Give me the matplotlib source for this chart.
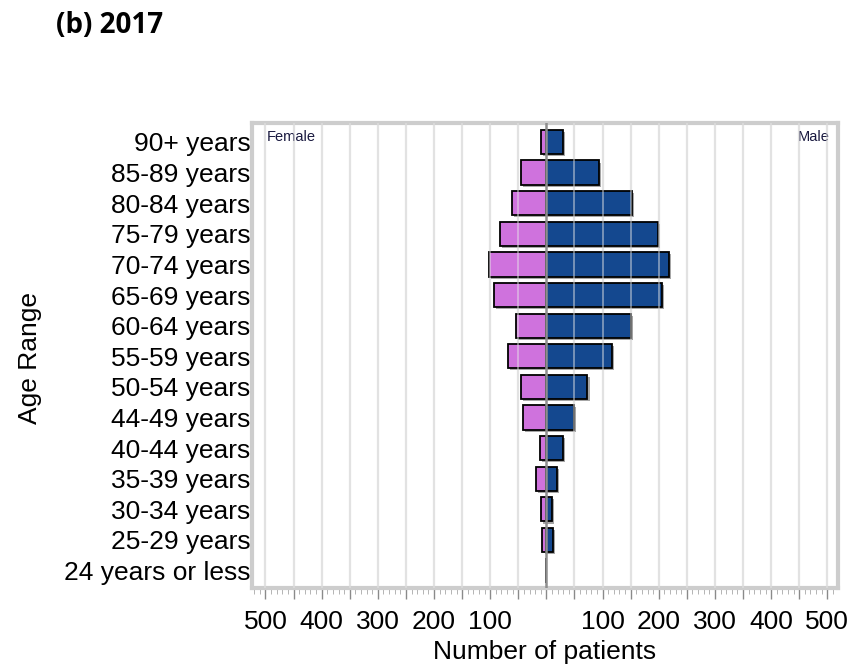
import matplotlib
matplotlib.use("Agg")
import matplotlib.pyplot as plt
import matplotlib.patheffects as pe
from matplotlib.ticker import MultipleLocator, FuncFormatter

# patients per age band, 2017 (top to bottom as listed)
age_groups = ["90+ years", "85-89 years", "80-84 years", "75-79 years",
              "70-74 years", "65-69 years", "60-64 years", "55-59 years",
              "50-54 years", "44-49 years", "40-44 years", "35-39 years",
              "30-34 years", "25-29 years", "24 years or less"]
female = [9, 46, 61, 82, 102, 94, 55, 69, 46, 42, 12, 19, 10, 7, 0]
male = [29, 93, 153, 198, 218, 205, 150, 117, 73, 49, 29, 19, 10, 11, 0]

female_color = "#CF72DD"
male_color = "#14488F"

plt.rcParams["font.family"] = ["Liberation Sans", "DejaVu Sans"]

W, H = 848, 670
fig = plt.figure(figsize=(W / 100, H / 100), dpi=100)
ax = fig.add_axes([252 / W, 1 - 588 / H, (838 - 252) / W, (588 - 123) / H])

n = len(age_groups)
ypos = [n - 1 - i for i in range(n)]

shadow = [pe.SimplePatchShadow(offset=(1.5, -1.5), shadow_rgbFace="#808080", alpha=0.7),
          pe.Normal()]
fb = ax.barh(ypos, [-v for v in female], height=0.79, color=female_color,
             edgecolor="black", linewidth=1.3, zorder=3)
mb = ax.barh(ypos, male, height=0.79, color=male_color,
             edgecolor="black", linewidth=1.3, zorder=3)
for p in list(fb) + list(mb):
    p.set_path_effects(shadow)

# grid every 50 patients, faintly repeated over the bars
for x in range(-500, 501, 50):
    if x == 0:
        continue
    ax.axvline(x, color="#E0E0E0", lw=1.6, zorder=1)
    ax.axvline(x, color="#E6E6E6", lw=1.2, alpha=0.55, zorder=4)
ax.axvline(0, color="#8E8E8E", lw=1.8, zorder=5)

ax.set_xlim(-524, 519)
ax.set_ylim(-0.57, n - 1 + 0.62)
ax.set_yticks(ypos)
ax.set_yticklabels(age_groups, fontsize=19)
ax.tick_params(axis="y", length=0, pad=1)

ax.xaxis.set_major_locator(MultipleLocator(50))
ax.xaxis.set_minor_locator(MultipleLocator(10))
ax.xaxis.set_major_formatter(
    FuncFormatter(lambda v, _: "" if v == 0 or v % 100 else f"{abs(int(v))}"))
ax.tick_params(axis="x", which="major", length=8, width=1, color="#8A8A8A",
               labelsize=19, pad=8)
ax.tick_params(axis="x", which="minor", length=4, color="#A8A8A8")

for s in ax.spines.values():
    s.set_color("#CDCDCD")
    s.set_linewidth(3)

ax.text(0.025, 0.985, "Female", transform=ax.transAxes, fontsize=10.5,
        color="#1A1A40", ha="left", va="top")
ax.text(0.985, 0.985, "Male", transform=ax.transAxes, fontsize=10.5,
        color="#1A1A40", ha="right", va="top")

ax.set_xlabel("Number of patients", fontsize=19, labelpad=4)
fig.text(30 / W, 1 - 358 / H, "Age Range", rotation=90, fontsize=19,
         ha="center", va="center")

fig.text(56 / W, 1 - 33 / H, "(b) 2017", fontsize=20, fontweight="bold",
         family=["Open Sans", "DejaVu Sans"], ha="left", va="baseline")

fig.savefig("out.png", dpi=100)
